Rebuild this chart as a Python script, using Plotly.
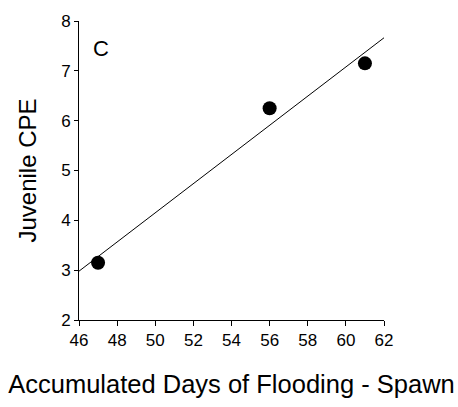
import numpy as np
import plotly.graph_objects as go

# Observations
days_flooding = [47, 56, 61]
juvenile_cpe = [3.15, 6.25, 7.15]

x_ticks = [46, 48, 50, 52, 54, 56, 58, 60, 62]
y_ticks = [2, 3, 4, 5, 6, 7, 8]

# Least-squares trend line over the axis span
slope, intercept = np.polyfit(days_flooding, juvenile_cpe, 1)
fit_x = [x_ticks[0], x_ticks[-1]]
fit_y = [slope * v + intercept for v in fit_x]

font = "Liberation Sans, Arial, sans-serif"

fig = go.Figure()
fig.add_trace(go.Scatter(x=fit_x, y=fit_y, mode="lines",
                         line=dict(color="black", width=1), hoverinfo="skip"))
fig.add_trace(go.Scatter(x=days_flooding, y=juvenile_cpe, mode="markers",
                         marker=dict(color="black", size=14)))

fig.add_annotation(x=47.15, y=7.45, text="C", showarrow=False,
                   font=dict(family=font, size=22, color="black"),
                   xanchor="center", yanchor="middle")

fig.update_layout(
    width=458, height=407,
    margin=dict(l=79, r=74, t=15, b=87),
    paper_bgcolor="white", plot_bgcolor="white",
    showlegend=False,
    font=dict(family=font, color="black"),
)
fig.update_xaxes(range=[46, 62], tickvals=x_ticks, showgrid=False, zeroline=False,
                 showline=True, linecolor="black", linewidth=1,
                 ticks="outside", ticklen=5, tickcolor="black",
                 tickfont=dict(size=17),
                 title=dict(text="Accumulated Days of Flooding - Spawn",
                            font=dict(size=25.5), standoff=25))
fig.update_yaxes(range=[2, 8], tickvals=y_ticks, showgrid=False, zeroline=False,
                 showline=True, linecolor="black", linewidth=1,
                 ticks="outside", ticklen=4, tickcolor="black",
                 tickfont=dict(size=17),
                 title=dict(text="Juvenile CPE", font=dict(size=24), standoff=17))

fig.write_html("out.html")
